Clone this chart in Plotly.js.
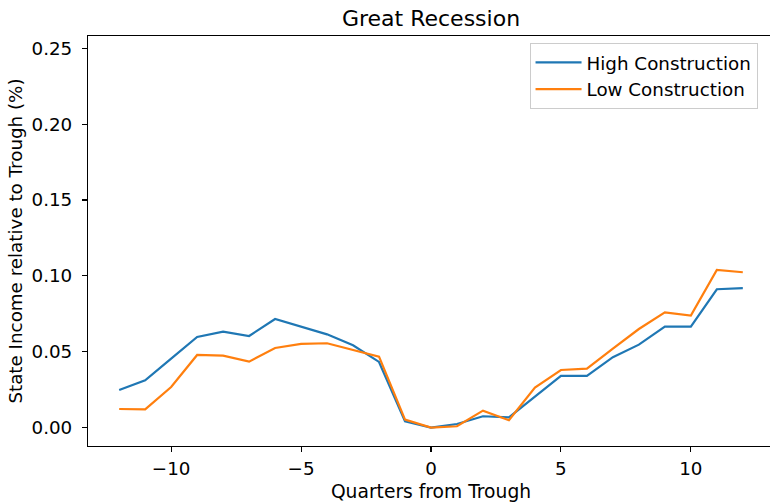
<!DOCTYPE html>
<html>
<head>
<meta charset="utf-8">
<script src="https://cdn.plot.ly/plotly-3.0.1.min.js"></script>
<style>
  html, body { margin: 0; padding: 0; overflow: hidden; background: #fff; }
  #chart { width: 776px; height: 503px; }
</style>
</head>
<body>
<div id="chart"></div>
<script>
// Quarters relative to the trough of the Great Recession
const quarters = [-12, -11, -10, -9, -8, -7, -6, -5, -4, -3, -2, -1, 0, 1, 2, 3, 4, 5, 6, 7, 8, 9, 10, 11, 12];

// State income relative to trough (%), by construction intensity
const highConstruction = [0.0248, 0.0312, 0.0455, 0.0598, 0.0633, 0.0604, 0.0716, 0.0666, 0.0615, 0.0543, 0.0433,
                          0.0042, 0.0000, 0.0024, 0.0075, 0.0068, 0.0204, 0.0341, 0.0341, 0.0464, 0.0547, 0.0666, 0.0666, 0.0912, 0.0919];
const lowConstruction  = [0.0123, 0.0121, 0.0268, 0.0479, 0.0474, 0.0435, 0.0525, 0.0552, 0.0556, 0.0512, 0.0468,
                          0.0053, 0.0000, 0.0009, 0.0112, 0.0049, 0.0264, 0.0380, 0.0389, 0.0521, 0.0650, 0.0760, 0.0738, 0.1039, 0.1024];

const seriesNames = ['High Construction', 'Low Construction'];
const xTicks = [-10, -5, 0, 5, 10];
const yTicks = [0.00, 0.05, 0.10, 0.15, 0.20, 0.25];

const font = 'DejaVu Sans, Verdana, sans-serif';
const textSize = 18.3;

const traces = [
  { x: quarters, y: highConstruction, name: seriesNames[0], type: 'scatter', mode: 'lines',
    line: { color: '#1f77b4', width: 2.2 } },
  { x: quarters, y: lowConstruction, name: seriesNames[1], type: 'scatter', mode: 'lines',
    line: { color: '#ff7f0e', width: 2.2 } }
];

const axisCommon = {
  showline: true, linecolor: '#000', linewidth: 1.1, mirror: true,
  ticks: 'outside', ticklen: 5, tickwidth: 1.1, tickcolor: '#000',
  showgrid: false, zeroline: false,
  tickfont: { family: font, size: textSize, color: '#000' }
};

const layout = {
  width: 776, height: 503,
  margin: { l: 88, r: 2, t: 36, b: 57 },
  paper_bgcolor: '#fff', plot_bgcolor: '#fff',
  font: { family: font, color: '#000' },
  title: { text: 'Great Recession', font: { family: font, size: 22, color: '#000' },
           x: 0.5, xref: 'paper', xanchor: 'center', y: 1, yref: 'paper', yanchor: 'bottom',
           pad: { b: 10 } },
  xaxis: Object.assign({}, axisCommon, {
    range: [-13.2, 13.2], tickvals: xTicks, ticktext: xTicks.map(v => v < 0 ? '\u2212' + Math.abs(v) : String(v)),
    ticklabelstandoff: 1,
    title: { text: 'Quarters from Trough', font: { family: font, size: textSize + 0.4, color: '#000' }, standoff: 6 }
  }),
  yaxis: Object.assign({}, axisCommon, {
    range: [-0.0121, 0.2581], tickvals: yTicks, ticktext: yTicks.map(v => v.toFixed(2)),
    ticklabelstandoff: 6,
    title: { text: 'State Income relative to Trough (%)', font: { family: font, size: textSize, color: '#000' }, standoff: 4 }
  }),
  showlegend: true,
  legend: {
    x: 0.976, xanchor: 'right', y: 0.983, yanchor: 'top',
    bgcolor: 'rgba(255,255,255,0.8)', bordercolor: '#cccccc', borderwidth: 1,
    font: { family: font, size: textSize, color: '#000' },
    itemwidth: 46,
    tracegroupgap: 0
  }
};

Plotly.newPlot('chart', traces, layout, { displayModeBar: false, staticPlot: true });
</script>
</body>
</html>
